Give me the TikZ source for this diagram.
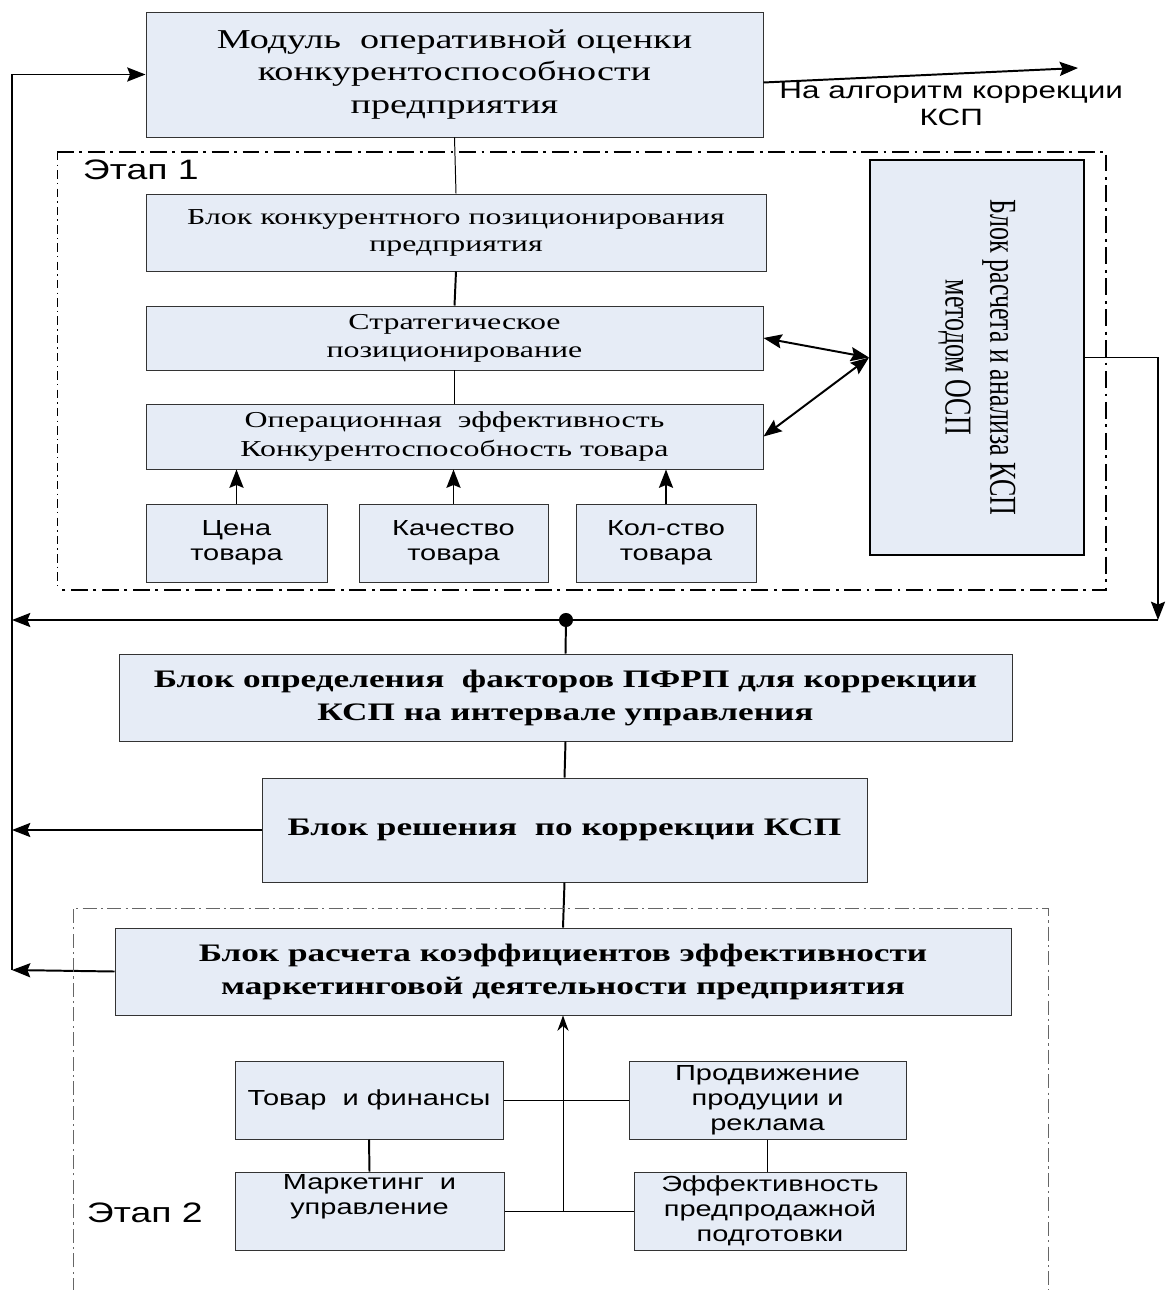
\documentclass[tikz,border=0pt]{standalone}
\usepackage{fontspec}
\setmainfont{Liberation Serif}[FakeStretch=1.4]
\newfontfamily\arialfont{Liberation Sans}[FakeStretch=1.33]
\newfontfamily\plainserif{Liberation Serif}
\usetikzlibrary{positioning,arrows.meta}
\definecolor{blockfill}{RGB}{230,236,246}

\begin{document}
\begin{tikzpicture}[>={Stealth[length=13pt,width=10pt,inset=2pt]},
    base node/.style={draw=black!80,fill=blockfill,line width=0.7pt,align=center,inner sep=1pt},
    block node/.style={base node,font=\fontsize{16.2}{20}\selectfont},
    main node/.style={base node,font=\bfseries\fontsize{17.9}{23.5}\selectfont},
    factor node/.style={base node,font=\arialfont\fontsize{15.5}{17.8}\selectfont},
    flow/.style={line width=1.4pt},
    thin flow/.style={line width=0.7pt},
    stage frame/.style={line width=1.4pt,dash pattern=on 12pt off 4pt on 2pt off 4pt},
    stage text/.style={font=\arialfont\fontsize{20}{22}\selectfont,anchor=west}]
\useasboundingbox (0,0) rectangle (29.15,-32.25);

% stage 1
\draw[stage frame] (1.425,-3.8) -- (27.65,-3.8) -- (27.65,-14.75) -- (1.425,-14.75);
\draw[line width=0.6pt,dash pattern=on 6pt off 3pt on 1pt off 3pt] (1.425,-3.8) -- (1.425,-14.75);
\node[stage text] (etap1) at (1.95,-4.25) {Этап 1};

\node[base node,minimum width=15.425cm,minimum height=3.125cm,font=\fontsize{19.4}{23.1}\selectfont]
    (mod) at (11.3625,-1.8625) {Модуль\ \ оперативной оценки\\конкурентоспособности\\предприятия};
\node[block node,minimum width=15.5cm,minimum height=1.925cm,font=\fontsize{16.2}{19.2}\selectfont]
    (konk) at (11.4,-5.8125) {Блок конкурентного позиционирования\\предприятия};
\node[block node,minimum width=15.425cm,minimum height=1.6cm] (strat) at (11.3625,-8.45)
    {Стратегическое\\позиционирование};
\node[block node,minimum width=15.425cm,minimum height=1.625cm] (oper) at (11.3625,-10.9125)
    {Операционная\ \ эффективность\\Конкурентоспособность товара};
\node[factor node,minimum width=4.525cm,minimum height=1.95cm] (cena) at (5.9125,-13.575) {Цена\\товара};
\node[factor node,minimum width=4.725cm,minimum height=1.95cm] (kach) at (11.3375,-13.575) {Качество\\товара};
\node[factor node,minimum width=4.5cm,minimum height=1.95cm] (kol) at (16.65,-13.575) {Кол-ство\\товара};
\node[base node,draw=black,line width=1.4pt,minimum width=5.35cm,minimum height=9.875cm] (osp) at (24.425,-8.9375) {};
\node[rotate=-90,inner sep=0pt] (osptext) at (osp.center)
    {\scalebox{1}[1.46]{\plainserif\fontsize{18.5}{21.9}\selectfont
     \begin{tabular}{@{}c@{}}Блок расчета и анализа КСП\\методом ОСП\end{tabular}}};

\coordinate (out) at (26.95,-1.7);
\node[align=center,font=\arialfont\fontsize{16.8}{19.2}\selectfont] (outtext) at (23.78,-2.6)
    {На алгоритм коррекции\\КСП};

\draw[thin flow] (mod.south) -- (konk.north);
\draw[flow] (konk.south) -- (strat.north);
\draw[flow] (strat.south) -- (oper.north);
\foreach \f in {cena,kach,kol}
    \draw[flow,->] (\f.north) -- (\f.north |- oper.south);
\draw[flow,<->] (strat.east) -- (osp.west);
\draw[flow,<->] (oper.east) -- (osp.west);
\draw[flow,->] ([yshift=-0.2cm]mod.east) -- (out);

% common bus
\coordinate (bus east) at (28.95,-15.5);
\coordinate (bus west) at (0.3,-15.5);
\coordinate (bus dot) at (14.15,-15.5);
\coordinate (left end) at (0.3,-24.25);
\draw[flow,->] (osp.east) -| (bus east);
\draw[flow,->] (bus east) -- (bus west);
\draw[flow,->] (left end) |- (mod.west);
\fill (bus dot) circle (5pt);

\node[main node,minimum width=22.325cm,minimum height=2.175cm] (opred) at (14.1375,-17.4375)
    {Блок определения\ \ факторов ПФРП для коррекции\\КСП на интервале управления};
\node[main node,minimum width=15.125cm,minimum height=2.6cm] (resh) at (14.1125,-20.75)
    {Блок решения\ \ по коррекции КСП};
\node[main node,minimum width=22.4cm,minimum height=2.175cm] (koef) at (14.075,-24.2875)
    {Блок расчета коэффициентов эффективности\\маркетинговой деятельности предприятия};

\draw[flow] (bus dot) -- (opred.north);
\draw[flow] (opred.south) -- (resh.north);
\draw[flow] (resh.south) -- (koef.north);
\draw[flow,->] (resh.west) -- (resh.west -| left end);
\draw[flow,->] (koef.west) -- (left end);

% stage 2
\draw[line width=0.6pt,black!60,dash pattern=on 10pt off 3pt on 1.5pt off 3pt]
    (1.825,-32.3) |- (26.2,-22.7) -- (26.2,-32.3);
\node[stage text] (etap2) at (2.05,-30.325) {Этап 2};

\node[factor node,minimum width=6.7cm,minimum height=1.95cm] (tovar) at (9.225,-27.5) {Товар\ \ и финансы};
\node[factor node,minimum width=6.725cm,minimum height=1.95cm] (market) at (9.2375,-30.275)
    {Маркетинг\ \ и\\управление\\\strut};
\node[factor node,minimum width=6.925cm,minimum height=1.95cm] (prod) at (19.1875,-27.5)
    {Продвижение\\продуции и\\реклама};
\node[factor node,minimum width=6.8cm,minimum height=1.95cm] (eff) at (19.25,-30.275)
    {Эффективность\\предпродажной\\подготовки};

\draw[flow] (tovar.south) -- (market.north);
\draw[thin flow] (prod.south) -- (prod.south |- eff.north);
\draw[thin flow] (tovar.east) -- (prod.west);
\draw[thin flow] (market.east) -- (eff.west);
\draw[thin flow,-{Stealth[length=11pt,width=8pt]}] (market.east -| koef.south) -- (koef.south);

\end{tikzpicture}
\end{document}
